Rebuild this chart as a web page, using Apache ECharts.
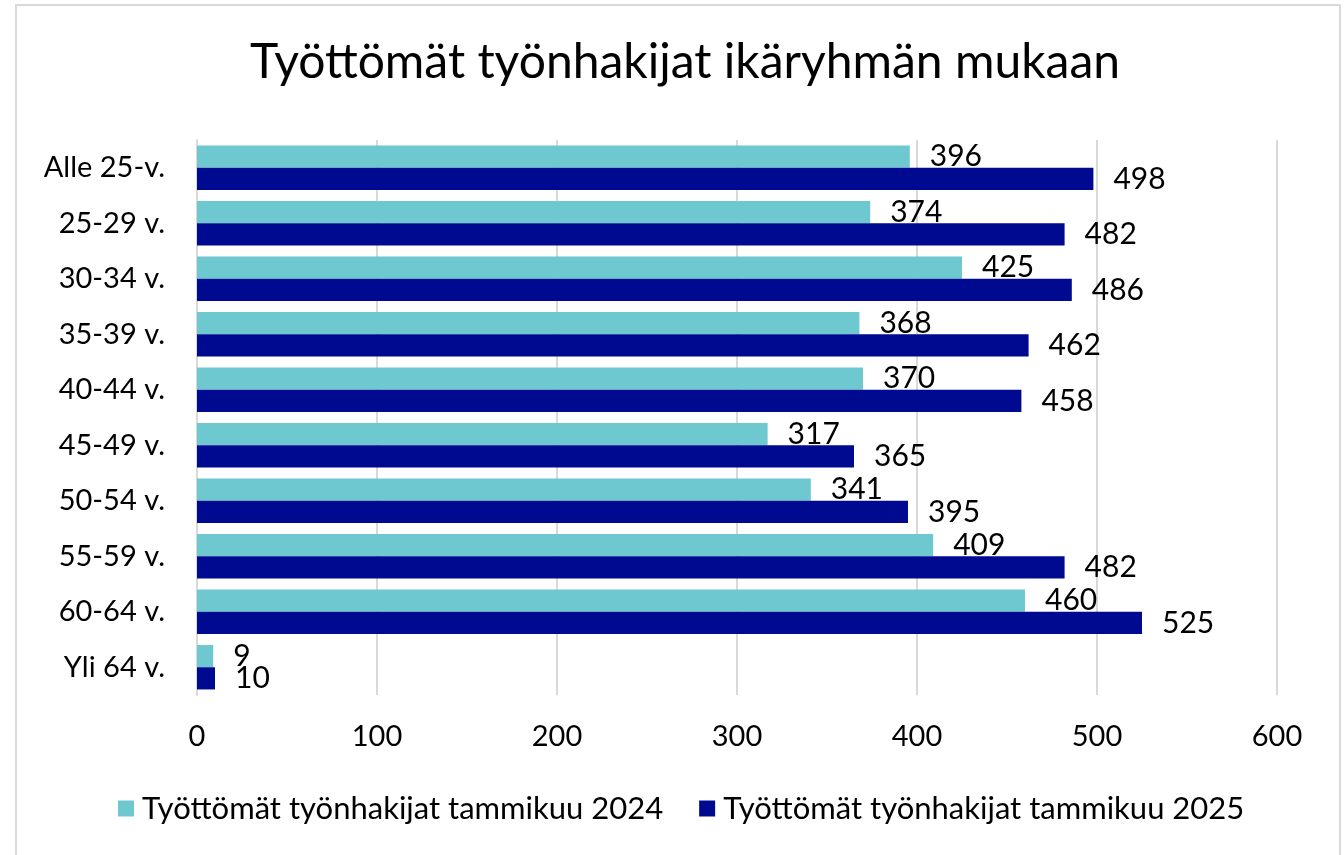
<!DOCTYPE html>
<html>
<head>
<meta charset="utf-8">
<script src="https://cdn.jsdelivr.net/npm/echarts@6/dist/echarts.min.js"></script>
<style>
  html, body { margin: 0; padding: 0; background: #fff; }
  #chart { width: 1344px; height: 855px; }
</style>
</head>
<body>
<div id="chart"></div>
<script>
var categories = ['Alle 25-v.', '25-29 v.', '30-34 v.', '35-39 v.', '40-44 v.', '45-49 v.', '50-54 v.', '55-59 v.', '60-64 v.', 'Yli 64 v.'];
var values2024 = [396, 374, 425, 368, 370, 317, 341, 409, 460, 9];
var values2025 = [498, 482, 486, 462, 458, 365, 395, 482, 525, 10];
var seriesNames = ['Työttömät työnhakijat tammikuu 2024', 'Työttömät työnhakijat tammikuu 2025'];
var xTicks = [0, 100, 200, 300, 400, 500, 600];

var font = 'Lato, "Open Sans", sans-serif';
var chart = echarts.init(document.getElementById('chart'));

var labelStyle = {
    show: true,
    position: 'right',
    distance: 20,
    color: '#000',
    fontSize: 30,
    fontFamily: font
};

var option = {
    animation: false,
    textStyle: {fontFamily: font},
    graphic: [{
        type: 'rect',
        shape: {x: 16, y: 5, width: 1324, height: 880},
        style: {fill: 'none', stroke: '#d9d9d9', lineWidth: 2},
        silent: true
    }],
    title: {
        text: 'Työttömät työnhakijat ikäryhmän mukaan',
        left: 680,
        top: 34,
        textAlign: 'center',
        textStyle: {fontSize: 48, fontWeight: 'normal', color: '#000', fontFamily: font}
    },
    grid: {left: 197, right: 67, top: 140, bottom: 160},
    legend: {
        bottom: 31,
        left: 118,
        padding: 0,
        itemWidth: 16,
        itemHeight: 16,
        itemGap: 36,
        icon: 'rect',
        textStyle: {fontSize: 31, color: '#000', fontFamily: font, padding: [0, 0, 0, 3]},
        data: seriesNames
    },
    xAxis: {
        type: 'value',
        min: xTicks[0],
        max: xTicks[xTicks.length - 1],
        interval: 100,
        axisLine: {show: false},
        axisTick: {show: false},
        splitLine: {lineStyle: {color: '#d9d9d9', width: 2}},
        axisLabel: {fontSize: 29, color: '#000', margin: 27, fontFamily: font}
    },
    yAxis: {
        type: 'category',
        inverse: true,
        data: categories,
        axisLine: {lineStyle: {color: '#d9d9d9', width: 2}},
        axisTick: {show: false},
        axisLabel: {fontSize: 29, color: '#000', margin: 32, fontFamily: font}
    },
    series: [{
        name: seriesNames[0],
        type: 'bar',
        data: values2024,
        itemStyle: {color: '#6ec8d0'},
        barGap: '0%',
        barCategoryGap: '20%',
        label: labelStyle
    }, {
        name: seriesNames[1],
        type: 'bar',
        data: values2025,
        itemStyle: {color: '#000a90'},
        label: labelStyle
    }]
};
chart.setOption(option);
</script>
</body>
</html>
